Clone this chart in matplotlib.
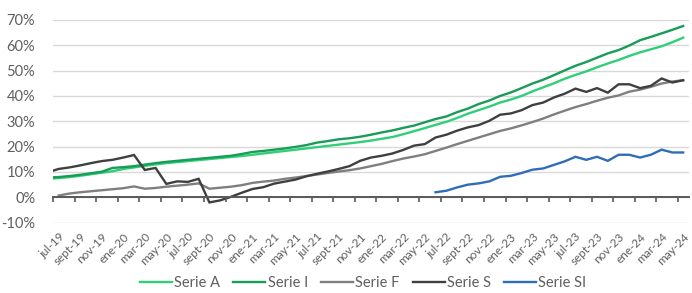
import numpy as np
import matplotlib.pyplot as plt

plt.rcParams['font.family'] = ['Lato', 'DejaVu Sans']

# Meses (jun-19 .. may-24); el primer punto queda recortado por el eje
meses_es = ['ene', 'feb', 'mar', 'abr', 'may', 'jun', 'jul', 'ago', 'sept', 'oct', 'nov', 'dic']
meses = [f"{meses_es[(5 + i) % 12]}-{19 + (5 + i) // 12}" for i in range(60)]

nan = np.nan

serie_a = [7.3, 7.6, 8.0, 8.5, 9.1, 9.7, 10.3, 11.2, 11.8, 12.4, 13.0, 13.5, 13.9, 14.3, 14.7,
           15.1, 15.5, 15.9, 16.3, 16.8, 17.3, 17.8, 18.3, 18.8, 19.3, 19.8, 20.3, 20.8, 21.3,
           21.8, 22.4, 23.1, 23.8, 24.9, 26.1, 27.3, 28.6, 29.8, 31.3, 33.0, 34.4, 35.8, 37.4,
           38.6, 40.0, 41.8, 43.4, 45.0, 46.8, 48.3, 49.7, 51.3, 52.8, 54.2, 55.8, 57.2, 58.4,
           59.6, 61.2, 63.0]

serie_i = [7.8, 8.0, 8.4, 8.9, 9.5, 10.1, 11.6, 11.9, 12.3, 12.9, 13.5, 14.0, 14.4, 14.8, 15.2,
           15.6, 16.0, 16.4, 17.1, 17.9, 18.3, 18.8, 19.3, 19.9, 20.6, 21.6, 22.2, 22.9, 23.3,
           23.9, 24.7, 25.6, 26.4, 27.4, 28.3, 29.6, 30.9, 31.9, 33.6, 35.0, 36.8, 38.2, 40.0,
           41.4, 43.1, 44.9, 46.4, 48.2, 50.1, 51.9, 53.4, 55.1, 56.8, 58.1, 59.9, 62.0, 63.3,
           64.7, 66.1, 67.6]

serie_f = [nan, 0.7, 1.5, 2.0, 2.4, 2.8, 3.2, 3.6, 4.3, 3.4, 3.7, 4.2, 4.6, 5.0, 5.5,
           3.4, 3.8, 4.2, 4.8, 5.7, 6.2, 6.6, 7.3, 7.8, 8.4, 9.0, 9.6, 10.2, 10.7,
           11.4, 12.3, 13.2, 14.3, 15.3, 16.1, 17.0, 18.3, 19.6, 21.0, 22.3, 23.6, 24.9, 26.2,
           27.2, 28.4, 29.7, 31.1, 32.7, 34.2, 35.6, 36.8, 38.1, 39.3, 40.2, 41.7, 42.5, 43.6,
           44.9, 45.7, 46.2]

serie_s = [9.9, 11.2, 11.8, 12.6, 13.5, 14.3, 14.8, 15.7, 16.7, 10.8, 11.6, 5.3, 6.3, 6.1, 7.3,
           -2.0, -1.2, 0.2, 1.8, 3.3, 4.0, 5.4, 6.2, 7.0, 8.3, 9.3, 10.2, 11.2, 12.3,
           14.4, 15.7, 16.4, 17.3, 18.7, 20.4, 21.0, 23.6, 24.7, 26.3, 27.6, 28.5, 30.2, 32.6,
           33.1, 34.4, 36.4, 37.4, 39.4, 40.9, 42.9, 41.6, 43.1, 41.3, 44.6, 44.6, 43.1, 44.0,
           46.9, 45.3, 46.2]

serie_si = [nan] * 36 + [2.0, 2.6, 3.9, 5.0, 5.5, 6.3, 8.1, 8.5, 9.6, 10.9, 11.4, 12.8, 14.2,
                         16.0, 14.8, 16.0, 14.4, 16.8, 16.8, 15.7, 16.8, 18.8, 17.7, 17.7]

series = [
    ('Serie A', serie_a, '#2fcf78'),
    ('Serie I', serie_i, '#189c58'),
    ('Serie F', serie_f, '#7f7f7f'),
    ('Serie S', serie_s, '#3f3f3f'),
    ('Serie SI', serie_si, '#2f6db8'),
]

texto = '#5f5f5f'
x = np.arange(len(meses))

fig = plt.figure(figsize=(6.92, 2.93), dpi=100)
ax = fig.add_axes([0.077, 0.24, 0.918, 0.692])

for nombre, valores, color in series:
    ax.plot(x, np.array(valores, dtype=float) * 0.01, color=color, lw=1.7,
            label=nombre, solid_joinstyle='miter', zorder=3)

ax.set_xlim(0.5, len(meses) - 0.5)
ax.set_ylim(-0.10, 0.70)

# eje Y
yt = np.arange(-0.10, 0.71, 0.10)
ax.set_yticks(yt)
ax.set_yticklabels([f"{v * 100:.0f}%" for v in yt], color=texto, fontsize=10.5)
ax.tick_params(axis='y', length=0, pad=13)
ax.grid(axis='y', color='#d9d9d9', lw=1)
ax.set_axisbelow(True)
for s in ax.spines.values():
    s.set_visible(False)

# etiquetas del eje X abajo (cada 2 meses)
pos_lbl = x[1::2]
ax.set_xticks(pos_lbl)
ax.set_xticklabels([meses[i] for i in pos_lbl], rotation=45, ha='right',
                   rotation_mode='anchor', color=texto, fontsize=8.5)
ax.tick_params(axis='x', length=0, pad=6)

# linea del 0% con marcas
ax2 = ax.twiny()
ax2.set_xlim(ax.get_xlim())
for s in ax2.spines.values():
    s.set_visible(False)
ax2.spines['bottom'].set_visible(True)
ax2.spines['bottom'].set_position(('data', 0))
ax2.spines['bottom'].set_color('#595959')
ax2.spines['bottom'].set_linewidth(1.4)
ax2.xaxis.set_ticks_position('bottom')
ax2.set_xticks(np.arange(0.5, len(meses), 2))
ax2.set_xticklabels([])
ax2.tick_params(axis='x', direction='out', length=3.5, width=1.2, color='#595959')

fig.legend(loc='lower center', ncol=5, frameon=False, bbox_to_anchor=(0.525, -0.035),
           handlelength=2.2, handletextpad=0.15, columnspacing=0.9,
           fontsize=10.5, labelcolor=texto)

plt.savefig('out.png', dpi=100)
